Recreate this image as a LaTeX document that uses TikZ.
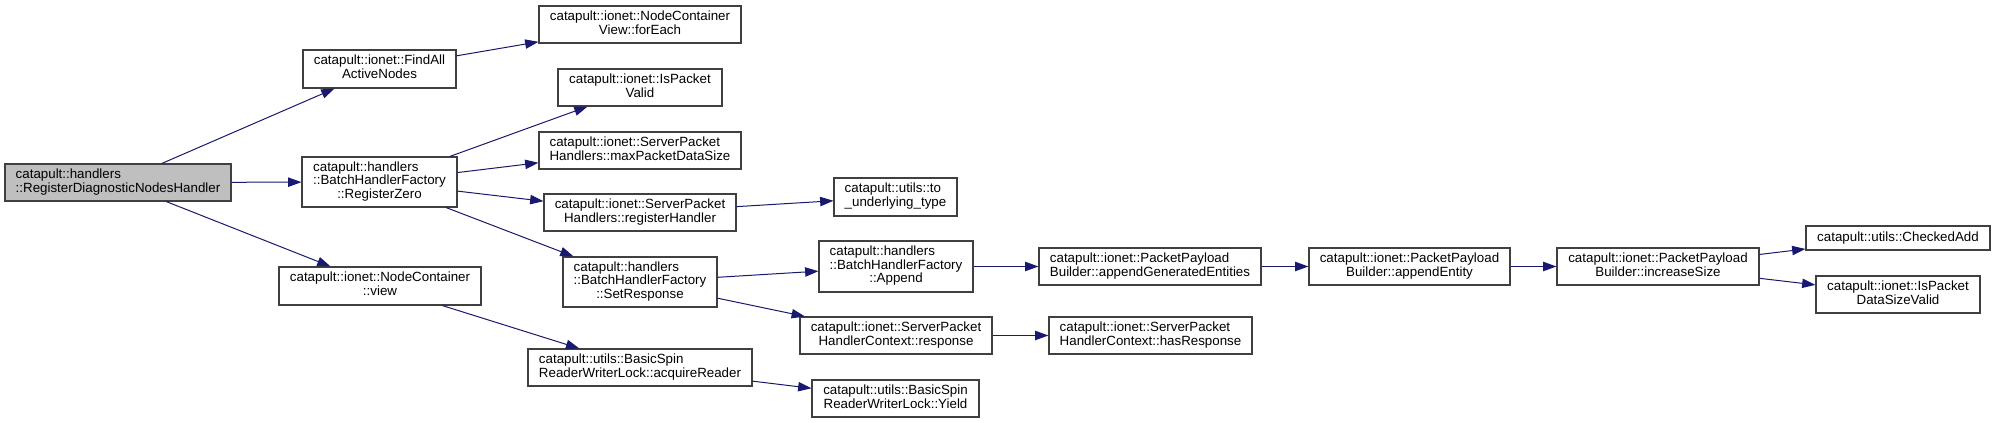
\documentclass[tikz,border=0pt]{standalone}
\usepackage{fontspec}
\setmainfont{Liberation Sans}
\usetikzlibrary{arrows.meta}
\definecolor{edgeblue}{HTML}{191970}
\definecolor{boxline}{HTML}{404040}
\definecolor{rootgray}{HTML}{BFBFBF}
% all lines left aligned but the last one, which is centred
\newcommand{\gvlbl}[2]{\begin{tabular}{@{}l@{}}#1\\\multicolumn{1}{@{}c@{}}{#2}\end{tabular}}

\begin{document}
\begin{tikzpicture}[
  x=0.75pt, y=-0.75pt,
  >={Triangle[length=10pt, width=7pt]},
  box/.style 2 args={draw=boxline, line width=0.8pt, fill=white,
    minimum width=#1*0.75pt, minimum height=#2*0.75pt, inner sep=0pt,
    font=\fontsize{10}{10}\selectfont, text=black},
  arr/.style={->, line width=0.75pt, edgeblue},
]

% Background
\fill[white] (0,0) rectangle (1995,423);
\useasboundingbox (0,0) rectangle (1995,423);

% === Column 1: caller ===
\node[box={226}{37}, fill=rootgray] (root) at (118,182.5)
  {\gvlbl{catapult::handlers}{::RegisterDiagnosticNodesHandler}};

% === Column 2 ===
\node[box={153}{38}] (findall) at (379.5,69) {\gvlbl{catapult::ionet::FindAll}{ActiveNodes}};
\node[box={155}{50}] (regzero) at (379.5,182) {\gvlbl{catapult::handlers\\::BatchHandlerFactory}{::RegisterZero}};
\node[box={202}{38}] (view) at (380,286) {\gvlbl{catapult::ionet::NodeContainer}{::view}};

% === Column 3 ===
\node[box={202}{37}] (foreach) at (640,24.5) {\gvlbl{catapult::ionet::NodeContainer}{View::forEach}};
\node[box={164}{37}] (isvalid) at (640,87.5) {\gvlbl{catapult::ionet::IsPacket}{Valid}};
\node[box={202}{37}] (maxsize) at (640,150.5) {\gvlbl{catapult::ionet::ServerPacket}{Handlers::maxPacketDataSize}};
\node[box={192}{37}] (reghandler) at (640,212.5) {\gvlbl{catapult::ionet::ServerPacket}{Handlers::registerHandler}};
\node[box={154}{50}] (setresp) at (640,282) {\gvlbl{catapult::handlers\\::BatchHandlerFactory}{::SetResponse}};
\node[box={224}{37}] (acqreader) at (640,367.5) {\gvlbl{catapult::utils::BasicSpin}{ReaderWriterLock::acquireReader}};

% === Column 4 ===
\node[box={123}{38}] (tounder) at (895.5,197) {\gvlbl{catapult::utils::to}{\_underlying\_type}};
\node[box={154}{51}] (append) at (896,266.5) {\gvlbl{catapult::handlers\\::BatchHandlerFactory}{::Append}};
\node[box={192}{37}] (response) at (896,335.5) {\gvlbl{catapult::ionet::ServerPacket}{HandlerContext::response}};
\node[box={167}{37}] (yield) at (895.5,398.5) {\gvlbl{catapult::utils::BasicSpin}{ReaderWriterLock::Yield}};

% === Columns 5 to 8 ===
\node[box={222}{37}] (appendgen) at (1150,266.5) {\gvlbl{catapult::ionet::PacketPayload}{Builder::appendGeneratedEntities}};
\node[box={203}{37}] (hasresp) at (1150.5,335.5) {\gvlbl{catapult::ionet::ServerPacket}{HandlerContext::hasResponse}};
\node[box={201}{37}] (appendent) at (1409.5,266.5) {\gvlbl{catapult::ionet::PacketPayload}{Builder::appendEntity}};
\node[box={202}{37}] (incsize) at (1658,266.5) {\gvlbl{catapult::ionet::PacketPayload}{Builder::increaseSize}};
\node[box={184}{24}] (checkedadd) at (1898,238) {catapult::utils::CheckedAdd};
\node[box={164}{37}] (sizevalid) at (1898,294.5) {\gvlbl{catapult::ionet::IsPacket}{DataSizeValid}};

% === Calls ===
\draw[arr] (root) -- (findall);
\draw[arr] (root) -- (regzero);
\draw[arr] (root) -- (view);
\draw[arr] (findall) -- (foreach);
\draw[arr] (regzero) -- (isvalid);
\draw[arr] (regzero) -- (maxsize);
\draw[arr] (regzero) -- (reghandler);
\draw[arr] (regzero) -- (setresp);
\draw[arr] (view) -- (acqreader);
\draw[arr] (reghandler) -- (tounder);
\draw[arr] (setresp) -- (append);
\draw[arr] (setresp) -- (response);
\draw[arr] (acqreader) -- (yield);
\draw[arr] (append) -- (appendgen);
\draw[arr] (response) -- (hasresp);
\draw[arr] (appendgen) -- (appendent);
\draw[arr] (appendent) -- (incsize);
\draw[arr] (incsize) -- (checkedadd);
\draw[arr] (incsize) -- (sizevalid);

\end{tikzpicture}
\end{document}
